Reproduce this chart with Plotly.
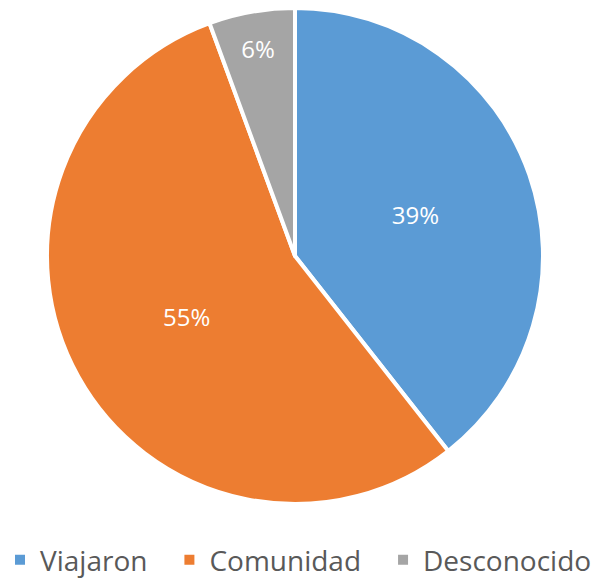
import plotly.graph_objects as go

labels = ["Viajaron", "Comunidad", "Desconocido"]
values = [39.4, 55.0, 5.6]
colors = ["#5B9BD5", "#ED7D31", "#A5A5A5"]

# The page body adds an 8px offset; positions below are given in page pixels
W, H = 640, 570
OFF = 8
PLOT_H = 500  # plot area height (bottom margin holds the legend)


def px(xp):
    return (xp - OFF) / W


def py(yp):
    return 1 - (yp - OFF) / PLOT_H


fig = go.Figure(go.Pie(
    labels=labels,
    values=values,
    sort=False,
    direction="clockwise",
    rotation=0,
    domain=dict(x=[px(47), px(543)], y=[py(504), py(8)]),
    marker=dict(colors=colors, line=dict(color="white", width=4)),
    textinfo="percent",
    texttemplate="%{percent:.0%}",
    textposition="inside",
    insidetextorientation="horizontal",
    textfont=dict(color="white", size=24, family="Open Sans"),
    hoverinfo="label+percent",
))

fig.update_layout(
    width=W, height=H,
    margin=dict(l=0, r=0, t=0, b=H - PLOT_H, autoexpand=False),
    paper_bgcolor="white",
    plot_bgcolor="white",
    showlegend=True,
    legend=dict(
        orientation="h",
        x=px(-17), xanchor="left",
        y=py(560), yanchor="middle",
        font=dict(size=28, color="#595959", family="Open Sans"),
        itemwidth=30,
        indentation=17,
        itemsizing="constant",
    ),
)

fig.write_html("out.html")
